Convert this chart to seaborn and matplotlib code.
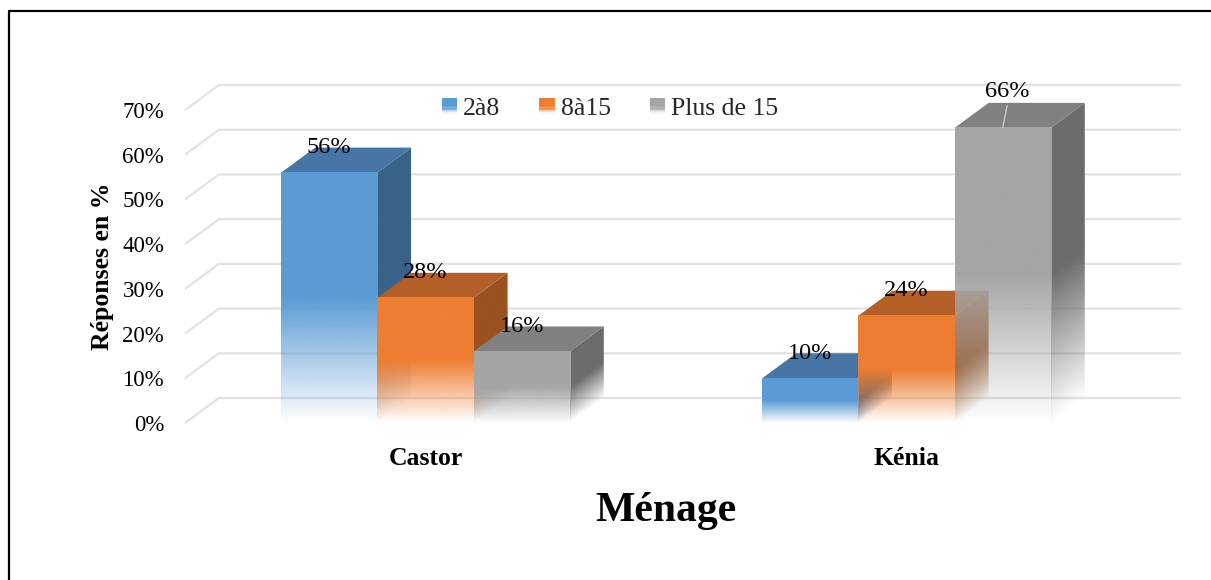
import numpy as np
import pandas as pd
import seaborn as sns
import matplotlib
matplotlib.use("Agg")
import matplotlib.pyplot as plt
from matplotlib.patches import Polygon, Rectangle
from matplotlib.lines import Line2D
from matplotlib.legend_handler import HandlerBase
from matplotlib.colors import to_rgb

# --- data -------------------------------------------------------------------
menages = ["Castor", "Kénia"]
groupes = ["2à8", "8à15", "Plus de 15"]
castor = [0.56, 0.28, 0.16]
kenia = [0.10, 0.24, 0.66]
yticks = [0.0, 0.1, 0.2, 0.3, 0.4, 0.5, 0.6, 0.7]
ytick_labels = ["0%", "10%", "20%", "30%", "40%", "50%", "60%", "70%"]

# --- styling ----------------------------------------------------------------
front_colors = ["#5B9BD5", "#ED7D31", "#A5A5A5"]
top_colors = ["#4675A6", "#B45F28", "#808080"]
side_colors = ["#3A6388", "#9B5120", "#6C6C6C"]
grid_color = "#e2e2e2"
DEPTH_PX = (34, 25)  # oblique depth of the pseudo-3D boxes, in pixels

df = pd.DataFrame({
    "Ménage": [m for m in menages for _ in groupes],
    "Groupe": groupes * len(menages),
    "Valeur": castor + kenia,
})

sns.set_theme(style="white")
plt.rcParams["font.family"] = ["Liberation Serif", "DejaVu Serif"]

fig = plt.figure(figsize=(12.11, 5.80), dpi=100)
W, H = 1211, 580
ax = fig.add_axes([185 / W, 157 / H, 962 / W, 313 / H])

sns.barplot(data=df, x="Ménage", y="Valeur", hue="Groupe", order=menages,
            hue_order=groupes, palette=front_colors, saturation=1, width=0.6,
            ax=ax, legend=False, errorbar=None)
ax.set_xlim(-0.5, 1.5)
ax.set_ylim(0, 0.7)

# depth offset expressed in data units
p0 = ax.transData.transform((0, 0))
inv = ax.transData.inverted()
ddx, ddy = inv.transform(p0 + np.array(DEPTH_PX)) - inv.transform(p0)


def fade(t):
    """Opacity along a face: solid in the upper half, fading out towards the floor."""
    return np.clip(t / 0.5, 0.0, 1.0)


# back-wall gridlines with their oblique returns on the left
x_left, x_right = ax.get_xlim()
for yv in yticks:
    ax.plot([x_left, x_left + ddx, x_right + ddx], [yv, yv + ddy, yv + ddy],
            color=grid_color, lw=1.6, zorder=0.5, clip_on=False,
            solid_capstyle="butt")

# group patches with their series colour, then draw boxes left to right
bars = []
for patch in ax.patches:
    fc = to_rgb(patch.get_facecolor())
    k = int(np.argmin([np.sum((np.array(fc) - np.array(to_rgb(c))) ** 2)
                       for c in front_colors]))
    bars.append((patch.get_x(), patch.get_width(), patch.get_height(), k, patch))
bars.sort(key=lambda b: b[0])

for idx, (x0, w, h, k, patch) in enumerate(bars):
    x1 = x0 + w
    z = 2 + idx * 3
    patch.set_facecolor("none")
    patch.set_edgecolor("none")

    # side face (gradient, parallelogram)
    side_poly = Polygon([(x1, 0), (x1, h), (x1 + ddx, h + ddy), (x1 + ddx, ddy)],
                        closed=True, transform=ax.transData)
    M, N = 60, 400
    xs = np.linspace(x1, x1 + ddx, M)
    ys = np.linspace(0, h + ddy, N)
    v = ys[:, None] - (xs[None, :] - x1) * ddy / ddx
    img = np.zeros((N, M, 4))
    img[..., :3] = to_rgb(side_colors[k])
    img[..., 3] = fade(v / h)
    im = ax.imshow(img, extent=[x1, x1 + ddx, 0, h + ddy], origin="lower",
                   aspect="auto", interpolation="bilinear", zorder=z)
    im.set_clip_path(side_poly)
    im.set_clip_box(fig.bbox)

    # top face
    ax.add_patch(Polygon([(x0, h), (x1, h), (x1 + ddx, h + ddy), (x0 + ddx, h + ddy)],
                         closed=True, facecolor=top_colors[k], edgecolor="none",
                         zorder=z + 1, clip_on=False))

    # front face (vertical gradient)
    t = np.linspace(0, 1, 300)
    img = np.zeros((300, 2, 4))
    img[..., :3] = to_rgb(front_colors[k])
    img[..., 3] = fade(t)[:, None]
    ax.imshow(img, extent=[x0, x1, 0, h], origin="lower", aspect="auto",
              interpolation="bilinear", zorder=z + 2)

    # value label at the back edge of the top face
    xc = x0 + w / 2
    label = f"{h * 100:.0f}%"
    if h + ddy > ax.get_ylim()[1]:
        ax.annotate(label, xy=(xc, h), xytext=(5, 36), textcoords="offset pixels",
                    ha="center", va="center", fontsize=17.5, color="#000000",
                    zorder=100, annotation_clip=False,
                    arrowprops=dict(arrowstyle="-", color="#c8c8c8", lw=1,
                                    shrinkA=0, shrinkB=0, relpos=(0.5, 0)))
    else:
        ax.text(xc, h + ddy, label, ha="center", va="center", fontsize=17.5,
                color="#000000", zorder=100)

ax.set_xlim(x_left, x_right)
ax.set_ylim(0, 0.7)

# axes text
ax.set_yticks(yticks)
ax.set_yticklabels(ytick_labels, fontsize=16.5, color="#000000")
ax.tick_params(axis="y", length=0, pad=15)
ax.tick_params(axis="x", length=0, pad=17)
for lab in ax.get_xticklabels():
    lab.set_fontsize(18.5)
    lab.set_fontweight("bold")
    lab.set_color("#000000")
ax.set_xlabel("Ménage", fontsize=30, fontweight="bold", color="#000000", labelpad=16)
ax.set_ylabel("Réponses en %", fontsize=18.5, fontweight="bold", color="#000000",
              labelpad=6)
for s in ax.spines.values():
    s.set_visible(False)
ax.grid(False)


# legend with small fading squares
class FadeSquare(HandlerBase):
    def create_artists(self, legend, orig_handle, xdescent, ydescent, width,
                       height, fontsize, trans):
        size = min(width, height * 1.3)
        x = -xdescent + (width - size) / 2
        y = -ydescent + (height - size) / 2
        n = 12
        arts = []
        for i in range(n):
            a = float(fade((i + 0.5) / n))
            arts.append(Rectangle((x, y + i * size / n), size, size / n + 0.3,
                                  facecolor=orig_handle.get_facecolor(), alpha=a,
                                  edgecolor="none", transform=trans))
        return arts


handles = [Rectangle((0, 0), 1, 1, facecolor=c) for c in front_colors]
fig.legend(handles, groupes, loc="center", bbox_to_anchor=(610 / W, 1 - 109 / H),
           ncol=3, frameon=False, fontsize=18.5, handlelength=0.6,
           handleheight=0.6, handletextpad=0.25, columnspacing=1.5,
           handler_map={Rectangle: FadeSquare()})

# outer frame (left and top edges)
fig.add_artist(Line2D([8.5 / W, 8.5 / W], [0, 1 - 10.5 / H], transform=fig.transFigure,
                      color="#000000", lw=1.6))
fig.add_artist(Line2D([8.5 / W, 1], [1 - 10.5 / H, 1 - 10.5 / H],
                      transform=fig.transFigure, color="#000000", lw=1.6))

fig.savefig("out.png", dpi=100, facecolor="white")
